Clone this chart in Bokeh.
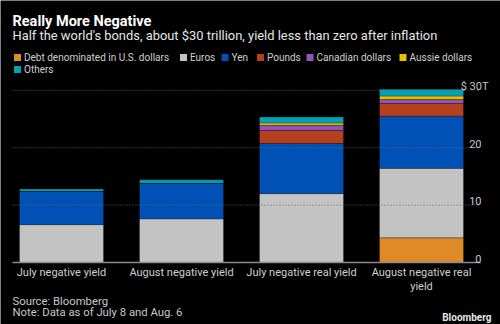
from bokeh.plotting import figure
from bokeh.models import ColumnDataSource, Label
from bokeh.core.properties import value
from bokeh.embed import file_html
from bokeh.resources import INLINE

categories = ["July negative yield", "August negative yield", "July negative real yield", "August negative real\nyield"]
series_names = ["Debt denominated in U.S. dollars", "Euros", "Yen", "Pounds", "Canadian dollars", "Aussie dollars", "Others"]
usd = [0.0, 0.0, 0.0, 4.3]
euros = [6.6, 7.6, 12.0, 12.1]
yen = [5.8, 6.2, 8.75, 9.1]
pounds = [0.0, 0.0, 2.25, 2.2]
cad = [0.0, 0.0, 0.9, 0.7]
aud = [0.0, 0.0, 0.4, 0.6]
others = [0.4, 0.6, 1.05, 1.2]
y_ticks = [0, 10, 20, 30]
y_tick_labels = ["0", "10", "20", "$ 30T"]

colors = ["#df8a28", "#c3c3c3", "#0050b6", "#b4401f", "#9352b8", "#e4c100", "#00a2b3"]
keys = ["usd", "euros", "yen", "pounds", "cad", "aud", "others"]
series = [usd, euros, yen, pounds, cad, aud, others]

FONT = "Roboto"
W, H = 500, 324
# map canvas pixels to data: bar centres 120 px apart starting at 61 px; zero line at 262 px
PX_X, X0 = 120.0, 61.0
PX_Y, Y0 = 5.74, 262.0


def dx(px):
    return (px - X0) / PX_X


def dy(py):
    return (Y0 - py) / PX_Y


xs = list(range(len(categories)))

p = figure(width=W, height=H, output_backend="svg", toolbar_location=None,
           x_range=(dx(0), dx(W)), y_range=(dy(H), dy(0)),
           min_border=0, min_border_left=0, min_border_right=0, min_border_top=0, min_border_bottom=0,
           background_fill_color="black", border_fill_color="black", outline_line_color=None)
p.axis.visible = False
p.grid.visible = False

data = dict(x=xs)
for k, s in zip(keys, series):
    data[k] = s
src = ColumnDataSource(data)
rs = p.vbar_stack(keys, x="x", width=0.7, source=src, color=colors,
                  line_color="black", line_alpha=0.25, line_width=1)

# grid lines (dotted) and baseline
gx0, gx1 = dx(12), dx(480)
gy = [t for t in y_ticks if t != 0]
p.segment(x0=[gx0] * len(gy), y0=gy, x1=[gx1] * len(gy), y1=gy,
          line_color="#6a6a6a", line_dash="1 2", line_width=1)
p.segment(x0=[gx0], y0=[0], x1=[gx1], y1=[0], line_color="#8a8a8a", line_width=1.5)

# y tick labels on right, above grid lines
xoff = [7 if "T" in l else 0 for l in y_tick_labels]
p.text(x=[dx(481)] * len(y_ticks), y=y_ticks, text=y_tick_labels, x_offset=xoff, y_offset=-4,
       text_align="right", text_baseline="alphabetic", text_color="#c8c8c8",
       text_font=value(FONT), text_font_size="11px")

# category labels under bars
p.text(x=xs, y=[0] * len(xs), text=categories, y_offset=3,
       text_align="center", text_baseline="top", text_color="#d0d0d0",
       text_font=value(FONT), text_font_size="11px", text_line_height=1.15)


def lab(text, cx, cy, size, bold=False, color="#e6e6e6", align="left"):
    p.add_layout(Label(x=cx, y=H - cy, x_units="screen", y_units="screen", text=text,
                       text_font=FONT, text_font_size=size, text_color=color,
                       text_font_style="bold" if bold else "normal",
                       text_align=align, text_baseline="middle"))


lab("Really More Negative", 12, 21, "14.5px", bold=True, color="#ffffff")
lab("Half the world's bonds, about $30 trillion, yield less than zero after inflation", 12, 35, "12.9px")
lab("Source: Bloomberg", 12, 301, "11.3px", color="#c8c8c8")
lab("Note: Data as of July 8 and Aug. 6", 12, 312, "11.3px", color="#c8c8c8")
lab("Bloomberg", 491, 317, "10px", bold=True, color="#e6e6e6", align="right")

# legend: swatches + labels (layout positions in canvas px)
sw_left = [13.5, 179.5, 221, 256.5, 306, 399, 13.5]
sw_row = [57, 57, 57, 57, 57, 57, 69]
p.rect(x=[dx(l + 3.5) for l in sw_left], y=[dy(r) for r in sw_row], width=7, height=7,
       width_units="screen", height_units="screen", fill_color=colors, line_color=None)
p.text(x=[dx(l + 10) for l in sw_left], y=[dy(r) for r in sw_row], text=series_names,
       text_align="left", text_baseline="middle", text_color="#d0d0d0",
       text_font=value(FONT), text_font_size="10px")

open("out.html", "w").write(file_html(p, INLINE))
